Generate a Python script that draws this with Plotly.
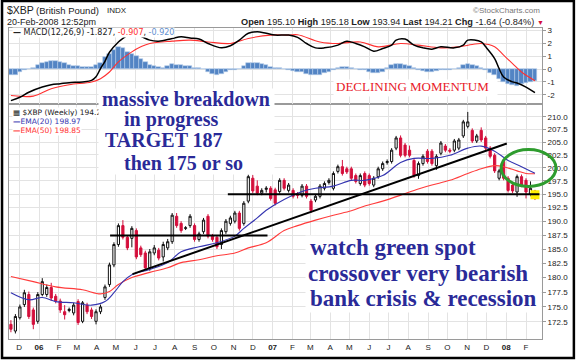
import math
import pandas as pd
import plotly.graph_objects as go

# ---------------- data ----------------
week_start = "2005-11-18"          # first weekly bar

bar_open = [172.1, 171.0, 173.2, 175.4, 177.1, 174.5, 172.6, 177.1, 177.1, 178.3,
            176.8, 176.0, 174.2, 174.4, 174.0, 175.9, 172.6, 175.3, 174.5, 172.6,
            174.2, 176.6, 178.8, 182.2, 185.8, 189.2, 187.1, 186.9, 188.3, 185.2,
            184.3, 181.7, 184.3, 184.8, 183.6, 185.2, 186.3, 190.9, 189.6, 188.7,
            189.2, 189.2, 186.7, 188.1, 190.9, 187.3, 187.1, 185.8, 188.1, 189.6,
            190.0, 191.5, 189.6, 193.7, 198.0, 196.5, 195.2, 195.9, 196.1, 195.8,
            195.5, 197.6, 195.7, 195.7, 195.0, 194.8, 196.5, 193.7, 193.9, 194.6,
            196.1, 197.2, 196.1, 199.3, 200.2, 199.8, 199.8, 198.5, 197.0, 198.9,
            198.5, 196.7, 198.3, 199.8, 201.0, 201.2, 203.8, 205.8, 204.4, 203.4,
            201.4, 198.5, 200.8, 203.2, 203.2, 200.4, 202.8, 204.2, 203.4, 203.4,
            203.8, 206.2, 208.1, 207.3, 205.2, 207.3, 205.8, 203.8, 202.4, 198.0,
            201.2, 198.0, 196.7, 195.4, 198.3, 197.6, 195.0, 195.6]
bar_high = [172.8, 173.8, 175.4, 177.9, 177.6, 174.9, 177.5, 179.9, 178.8, 179.1,
            177.2, 176.4, 175.3, 174.9, 175.7, 176.3, 176.0, 175.7, 174.9, 174.6,
            175.4, 178.8, 182.6, 186.2, 189.6, 190.2, 187.5, 189.1, 188.7, 185.6,
            184.7, 185.0, 185.7, 185.2, 186.3, 186.8, 191.5, 191.5, 190.0, 189.1,
            191.3, 189.6, 188.1, 190.6, 191.3, 187.7, 187.5, 188.7, 190.4, 191.0,
            191.9, 191.9, 193.7, 198.7, 198.6, 197.6, 196.1, 196.5, 196.5, 196.2,
            198.0, 198.0, 197.1, 196.1, 195.4, 196.9, 196.9, 194.1, 195.0, 196.9,
            197.4, 198.0, 199.3, 200.6, 201.5, 200.2, 200.2, 198.9, 198.9, 199.3,
            198.9, 198.4, 200.2, 201.2, 201.6, 203.8, 206.2, 206.3, 204.8, 204.3,
            201.8, 201.2, 202.6, 203.6, 203.6, 202.6, 205.2, 204.6, 203.8, 205.6,
            205.8, 209.4, 211.0, 207.7, 206.6, 207.9, 206.2, 204.2, 202.8, 199.8,
            201.6, 198.4, 197.1, 198.7, 198.7, 198.0, 197.4, 195.8]
bar_low = [170.8, 170.6, 172.9, 175.0, 173.0, 171.3, 172.2, 176.8, 176.7, 176.0,
           175.6, 174.0, 172.9, 174.1, 173.6, 172.0, 172.3, 173.8, 173.0, 172.1,
           173.8, 176.2, 178.4, 181.8, 185.4, 186.7, 184.8, 185.3, 183.2, 183.6,
           181.3, 181.2, 183.9, 183.0, 182.8, 184.8, 185.9, 188.8, 187.9, 188.4,
           188.8, 186.3, 186.3, 187.7, 186.9, 186.3, 185.0, 185.0, 187.7, 189.2,
           189.6, 188.3, 189.2, 193.3, 195.2, 194.8, 194.8, 195.3, 193.8, 192.9,
           195.1, 195.7, 195.3, 194.2, 194.2, 194.4, 194.2, 191.5, 193.5, 194.2,
           195.7, 196.8, 195.7, 198.9, 198.5, 198.8, 197.6, 197.0, 196.6, 196.3,
           196.6, 196.3, 197.9, 199.4, 200.6, 200.8, 203.4, 202.0, 202.0, 202.0,
           198.1, 197.9, 200.4, 200.8, 200.4, 199.6, 202.4, 203.0, 202.8, 203.0,
           203.4, 205.8, 207.7, 204.8, 204.8, 205.0, 203.4, 201.8, 199.0, 197.6,
           197.6, 195.3, 195.2, 194.5, 196.3, 194.2, 194.6, 193.9]
bar_close = [171.3, 173.4, 175.0, 177.4, 173.4, 172.1, 177.1, 179.3, 178.3, 176.5,
             176.0, 174.5, 173.7, 174.6, 175.3, 172.4, 175.7, 174.2, 173.4, 174.2,
             175.0, 178.4, 182.2, 185.8, 189.2, 187.1, 185.2, 188.7, 183.6, 184.0,
             181.7, 184.5, 185.2, 183.4, 185.8, 186.3, 191.1, 189.2, 188.3, 188.8,
             190.9, 186.7, 187.7, 190.2, 187.3, 186.7, 185.4, 188.3, 190.0, 190.6,
             191.5, 188.7, 193.3, 198.3, 195.6, 195.2, 195.7, 196.1, 194.2, 193.3,
             197.6, 196.1, 196.7, 194.6, 194.8, 196.5, 194.6, 192.0, 194.6, 196.5,
             197.0, 197.6, 198.9, 200.2, 198.9, 199.2, 198.0, 197.4, 198.5, 196.7,
             197.0, 198.0, 199.8, 200.8, 201.2, 203.4, 205.8, 202.4, 202.4, 202.4,
             198.5, 200.8, 202.2, 201.2, 200.8, 202.2, 204.8, 203.4, 203.2, 205.2,
             205.4, 209.0, 209.0, 205.2, 206.2, 205.4, 203.8, 202.2, 199.4, 199.4,
             198.0, 195.7, 195.6, 198.3, 196.7, 195.4, 196.1, 194.21]

# moving averages, read at selected weeks (week index, value)
ema20_weeks = [0, 4, 7, 10, 14, 18, 21, 23, 25, 27, 31, 35, 38, 42, 46, 50, 52, 55,
               57, 61, 65, 68, 72, 76, 79, 83, 87, 90, 94, 98, 102, 105, 108, 111, 114, 117]
ema20_vals = [177.4, 176.2, 176.6, 175.9, 175.7, 175.3, 175.9, 177.4, 179.3, 180.5,
              181.4, 182.6, 184.5, 185.4, 186.1, 187.3, 188.7, 190.6, 192.0, 194.0,
              195.5, 196.1, 196.5, 197.6, 197.6, 198.5, 201.0, 201.8, 201.8, 202.4,
              203.8, 204.2, 203.2, 201.4, 200.2, 198.97]
ema50_weeks = [0, 5, 10, 16, 20, 22, 24, 27, 31, 35, 38, 42, 46, 50, 53, 57, 61, 64,
               68, 72, 76, 79, 83, 87, 90, 94, 98, 102, 105, 108, 110, 113, 115, 117]
ema50_vals = [180.2, 179.3, 178.4, 177.9, 177.2, 177.6, 178.8, 180.0, 180.9, 181.7,
              182.6, 183.1, 183.8, 184.3, 185.2, 186.1, 188.3, 189.2, 190.2, 191.1,
              191.9, 192.8, 193.7, 194.8, 195.7, 196.7, 197.6, 198.9, 199.8, 200.4,
              200.2, 199.4, 198.9, 198.85]

# MACD(12,26,9)
macd_weeks = [0, 2, 4, 7, 9, 11, 13, 16, 18, 19, 20, 21, 22, 24, 25, 26, 28, 29, 31,
              33, 36, 38, 40, 42, 44, 47, 49, 51, 53, 55, 57, 59, 62, 64, 66, 68, 70,
              73, 75, 77, 79, 81, 83, 85, 86, 88, 90, 92, 94, 96, 99, 101, 102, 105,
              106, 108, 109, 110, 112, 113, 115, 117]
macd_vals = [-2.45, -2.19, -1.8, -1.4, -1.22, -1.14, -1.06, -1.0, -0.88, -0.6, 0.03,
             0.6, 1.3, 2.1, 2.37, 2.6, 2.75, 2.55, 2.24, 2.16, 2.37, 2.5, 2.4, 2.32,
             1.98, 1.64, 1.8, 2.24, 2.77, 2.89, 2.77, 2.63, 2.63, 2.45, 1.98, 1.64,
             1.64, 1.85, 2.16, 1.98, 1.72, 1.38, 1.59, 1.85, 2.24, 2.32, 1.85, 1.64,
             1.54, 1.72, 1.64, 1.85, 2.24, 2.1, 1.72, 0.81, 0.03, -0.62, -1.0, -1.09,
             -1.4, -1.827]
signal_weeks = [0, 5, 9, 13, 18, 20, 22, 24, 27, 29, 31, 36, 40, 44, 49, 53, 58, 62,
                64, 69, 73, 78, 82, 87, 91, 96, 100, 103, 105, 108, 110, 112, 114, 117]
signal_vals = [-2.05, -2.1, -1.53, -1.22, -1.01, -0.75, -0.23, 0.55, 1.33, 1.72, 1.98,
               2.16, 2.24, 2.1, 1.98, 2.37, 2.63, 2.63, 2.66, 2.1, 1.98, 2.1, 1.72,
               1.98, 1.85, 1.64, 1.72, 1.9, 1.98, 1.72, 1.07, 0.42, -0.23, -0.907]
macd_hist = [-0.45, -0.45, -0.2, -0.1, 0.0, 0.1, 0.3, 0.5, 0.55, 0.6,
             0.6, 0.55, 0.5, 0.35, 0.25, 0.2, 0.15, 0.15, 0.15, 0.3,
             0.5, 0.9, 1.2, 1.5, 1.7, 1.6, 1.35, 1.2, 1.0, 0.8,
             0.55, 0.35, 0.2, 0.15, 0.1, 0.2, 0.4, 0.35, 0.3, 0.25,
             0.2, 0.1, 0.05, 0.0, -0.2, -0.4, -0.5, -0.4, -0.2, -0.1,
             -0.05, 0.0, 0.2, 0.45, 0.5, 0.45, 0.4, 0.3, 0.15, 0.1,
             0.1, 0.0, -0.1, -0.15, -0.2, -0.25, -0.35, -0.45, -0.5, -0.45,
             -0.3, -0.2, -0.1, 0.1, 0.15, 0.15, 0.1, 0.0, -0.05, -0.1,
             -0.25, -0.3, -0.3, -0.2, 0.05, 0.3, 0.4, 0.4, 0.35, 0.2,
             0.05, -0.1, -0.15, -0.2, -0.2, -0.15, -0.1, -0.05, -0.05, 0.0,
             0.1, 0.3, 0.4, 0.35, 0.2, 0.1, -0.1, -0.3, -0.5, -0.8,
             -1.0, -1.15, -1.25, -1.3, -1.2, -1.1, -1.0, -0.92]

# hand-drawn lines on the chart (date, price)
uptrend_dates = ["2006-05-27", "2008-01-02"]
uptrend_prices = [180.6, 204.7]
target_dates = ["2006-04-22", "2006-12-24"]
target_prices = [187.4, 187.4]
support_dates = ["2006-10-23", "2008-02-22"]
support_prices = [195.0, 195.0]

price_ticks = [172.5, 175.0, 177.5, 180.0, 182.5, 185.0, 187.5, 190.0, 192.5, 195.0,
               197.5, 200.0, 202.5, 205.0, 207.5, 210.0]
macd_ticks = [-2, -1, 0, 1, 2, 3]
month_ticks = pd.date_range("2005-12-01", "2008-02-01", freq="MS")
month_labels = ["D", "<b>06</b>", "F", "M", "A", "M", "J", "J", "A", "S", "O", "N", "D",
                "<b>07</b>", "F", "M", "A", "M", "J", "J", "A", "S", "O", "N", "D",
                "<b>08</b>", "F"]

# ---------------- figure ----------------
dates = pd.date_range(week_start, periods=len(bar_close), freq="7D")


def at(weeks):
    return [dates[i] for i in weeks]


L, R, T, B = 8, 33, 28, 20
W, H = 576, 360
PW, PH = W - L - R, H - T - B


def PX(x):
    return (x - L) / PW


def PY(y):
    return (H - B - y) / PH


BLUE_TXT = "#2a2a98"
RED = "#d40f3c"
GRID = "#e3e3e3"
FRAME = "#9a9a9a"
SPLIT = 0.757

fig = go.Figure()

# MACD panel
fig.add_trace(go.Bar(x=dates, y=macd_hist, xaxis="x2", yaxis="y2",
                     width=7 * 86400000,
                     marker=dict(color="#5384c4", line=dict(color="#b3cbea", width=0.6))))
fig.add_trace(go.Scatter(x=at(signal_weeks), y=signal_vals, xaxis="x2", yaxis="y2",
                         mode="lines", line=dict(color="#ff3030", width=1.1, shape="spline")))
fig.add_trace(go.Scatter(x=at(macd_weeks), y=macd_vals, xaxis="x2", yaxis="y2",
                         mode="lines", line=dict(color="black", width=1.5, shape="spline")))

# price panel
fig.add_trace(go.Scatter(x=[dates[-1]], y=[194.9], mode="markers",
                         marker=dict(symbol="square", size=9, color="#ffee00",
                                     line=dict(width=0))))
fig.add_trace(go.Scatter(x=at(ema50_weeks), y=ema50_vals, mode="lines",
                         line=dict(color="#ff3b3b", width=1.1, shape="spline")))
fig.add_trace(go.Scatter(x=at(ema20_weeks), y=ema20_vals, mode="lines",
                         line=dict(color="#3535b0", width=1.1, shape="spline")))
fig.add_trace(go.Candlestick(x=dates, open=bar_open, high=bar_high, low=bar_low,
                             close=bar_close, whiskerwidth=0,
                             increasing=dict(line=dict(color="#111111", width=1),
                                             fillcolor="white"),
                             decreasing=dict(line=dict(color=RED, width=1),
                                             fillcolor=RED)))
for xs, ys in [(uptrend_dates, uptrend_prices), (target_dates, target_prices),
               (support_dates, support_prices)]:
    fig.add_trace(go.Scatter(x=xs, y=ys, mode="lines",
                             line=dict(color="black", width=2)))

xcommon = dict(type="date", range=["2005-11-15", "2008-02-26"],
               tickvals=list(month_ticks), ticktext=month_labels,
               showgrid=True, gridcolor=GRID, gridwidth=1,
               showline=True, mirror=True, linecolor=FRAME, linewidth=1,
               ticks="", zeroline=False)
fig.update_layout(
    width=W, height=H, margin=dict(l=L, r=R, t=T, b=B),
    paper_bgcolor="white", plot_bgcolor="white", showlegend=False,
    bargap=0, hovermode=False,
    font=dict(family="Liberation Sans", size=8, color="#222222"),
    xaxis=dict(**xcommon, anchor="y", domain=[0, 1], rangeslider=dict(visible=False),
               tickfont=dict(size=8, color="#222222")),
    xaxis2=dict(**xcommon, anchor="y2", domain=[0, 1], matches="x",
                showticklabels=False),
    yaxis=dict(domain=[0, SPLIT], type="log",
               range=[math.log10(169.7), math.log10(212.7)],
               side="right", tickvals=price_ticks,
               ticktext=[f"{v:.1f}" for v in price_ticks],
               showgrid=True, gridcolor=GRID, showline=True, mirror=True,
               linecolor=FRAME, ticks="outside", ticklen=3, tickcolor=FRAME,
               tickfont=dict(size=8, color="#222222"), zeroline=False),
    yaxis2=dict(domain=[SPLIT, 1], range=[-2.68, 3.18], side="right",
                tickvals=macd_ticks, ticktext=[str(v) for v in macd_ticks],
                showgrid=True, gridcolor=GRID, showline=True, mirror=True,
                linecolor=FRAME, ticks="outside", ticklen=3, tickcolor=FRAME,
                tickfont=dict(size=8, color="#222222"), zeroline=False),
)

shapes = [
    dict(type="circle", xref="paper", yref="paper",
         x0=PX(502), x1=PX(557), y0=PY(187), y1=PY(150),
         line=dict(color="#2e9c2e", width=3)),
    dict(type="rect", xref="paper", yref="paper",
         x0=PX(1), x1=PX(575), y0=PY(359), y1=PY(1),
         line=dict(color="black", width=2.5)),
]
fig.update_layout(shapes=shapes)

ann = []


def text(x, y, s, size=8, color="#222222", family="Liberation Sans", anchor="left",
         bg=None, yanchor="middle"):
    d = dict(x=PX(x), y=PY(y), xref="paper", yref="paper", text=s, showarrow=False,
             xanchor=anchor, yanchor=yanchor,
             font=dict(size=size, color=color, family=family), borderpad=0)
    if bg:
        d["bgcolor"] = bg
    ann.append(d)


def box(x0, y0, x1, y1):
    ann.append(dict(x=PX(x0), y=PY(y0), xref="paper", yref="paper", text="",
                    showarrow=False, xanchor="left", yanchor="top",
                    width=x1 - x0, height=y1 - y0, bgcolor="white", borderpad=0))


# header
text(5, 10, "$XBP", size=10.5)
text(34, 10, "(British Pound)", size=9.5)
text(105, 10, "INDX", size=8)
text(5, 22, "20-Feb-2008 12:52pm", size=9)
text(542, 10, "©StockCharts.com", size=8, color="#777777", anchor="right")
text(536, 22, "<b>Open</b> 195.10 <b>High</b> 195.18 <b>Low</b> 193.94 "
     "<b>Last</b> 194.21 <b>Chg</b> -1.64 (-0.84%)", size=9.2, anchor="right")
text(537, 22, "▼", size=7, color="#d40f3c")

# panel legends
text(11, 33, "<b>—</b> MACD(12,26,9) -1.827, <span style='color:#ff3030'>-0.907</span>, "
     "<span style='color:#5f8fd0'>-0.920</span>", size=8, family="DejaVu Sans", bg="white")
text(11, 113, "▦ $XBP (Weekly) 194.21", size=7.5, family="DejaVu Sans", bg="white")
text(11, 122, "<b>—</b>EMA(20) 198.97", size=7.5, family="DejaVu Sans", color="#3535b0",
     bg="white")
text(11, 131, "<b>—</b>EMA(50) 198.85", size=7.5, family="DejaVu Sans", color="#ff3030",
     bg="white")

# white areas behind the hand-written comments
box(97, 88, 272, 173)
box(305, 236, 540, 312)
box(333, 79, 496, 95)

SERIF = "Liberation Serif"
text(100, 99, "<b>massive breakdown</b>", size=20, color=BLUE_TXT, family=SERIF)
text(122, 120, "<b>in progress</b>", size=20, color=BLUE_TXT, family=SERIF)
text(103, 140, "<b>TARGET 187</b>", size=20, color=BLUE_TXT, family=SERIF)
text(122, 163, "<b>then 175 or so</b>", size=20, color=BLUE_TXT, family=SERIF)
text(335, 86.5, "DECLINING MOMENTUM", size=13, color="#e8202a", family=SERIF)
text(309, 248, "<b>watch green spot</b>", size=23, color=BLUE_TXT, family=SERIF)
text(307, 274, "<b>crossover very bearish</b>", size=23, color=BLUE_TXT, family=SERIF)
text(309, 299, "<b>bank crisis &amp; recession</b>", size=23, color=BLUE_TXT, family=SERIF)

fig.update_layout(annotations=ann)
fig.write_html("out.html", config={"displayModeBar": False},
               post_script="document.body.style.margin='0px';"
                           "document.body.style.padding='0px';"
                           "document.body.style.overflow='hidden';")
